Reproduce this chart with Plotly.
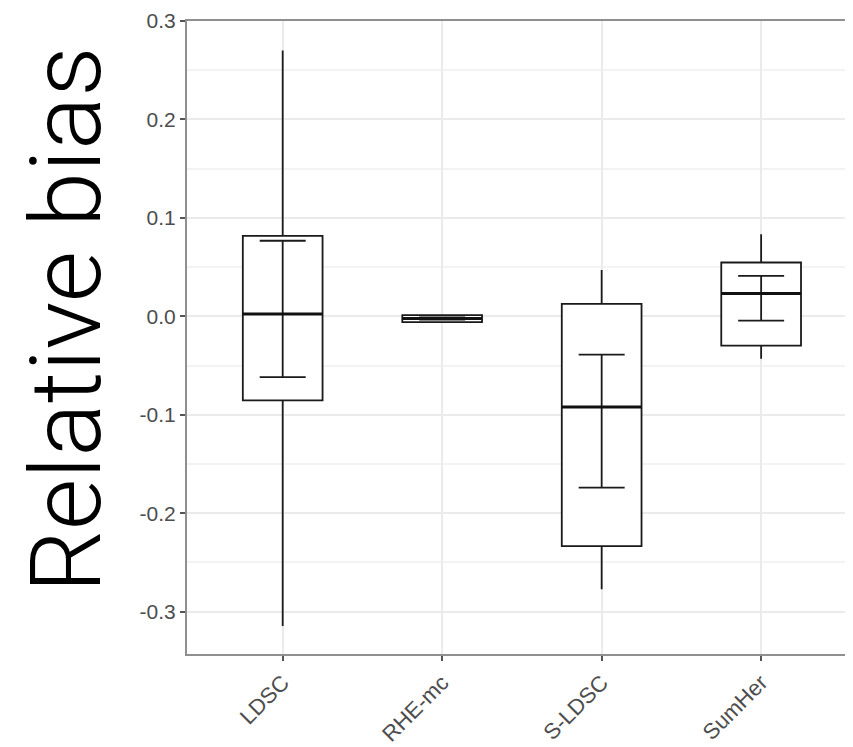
import plotly.graph_objects as go

categories = ["LDSC", "RHE-mc", "S-LDSC", "SumHer"]
q1 = [-0.0854, -0.0058, -0.2334, -0.0297]
median = [0.0024, -0.0022, -0.0922, 0.0233]
q3 = [0.0818, 0.0012, 0.0126, 0.0547]
lower_whisker = [-0.3145, -0.0065, -0.2773, -0.0432]
upper_whisker = [0.2700, 0.0018, 0.0470, 0.0835]
err_center = [0.0075, -0.0022, -0.1064, 0.0183]
err_half = [0.0693, 0.0012, 0.0676, 0.0227]

y_ticks = [-0.3, -0.2, -0.1, 0.0, 0.1, 0.2, 0.3]
y_ticktext = ["-0.3", "-0.2", "-0.1", "0.0", "0.1", "0.2", "0.3"]

xs = list(range(len(categories)))
BOX_W = 0.5

fig = go.Figure()
fig.add_trace(go.Box(
    x=xs, q1=q1, median=median, q3=q3,
    lowerfence=lower_whisker, upperfence=upper_whisker,
    width=BOX_W, whiskerwidth=0,
    fillcolor="white", line=dict(color="#1a1a1a", width=1.8),
    boxpoints=False, showlegend=False, hoverinfo="skip",
))
# thicker median lines
for xi, m in zip(xs, median):
    fig.add_shape(type="line", x0=xi - BOX_W / 2, x1=xi + BOX_W / 2, y0=m, y1=m,
                  line=dict(color="#111111", width=3), layer="above")

fig.add_trace(go.Scatter(
    x=xs, y=err_center, mode="markers",
    marker=dict(size=1, opacity=0),
    error_y=dict(type="data", array=err_half, symmetric=True,
                 color="#1a1a1a", thickness=1.8, width=23),
    showlegend=False, hoverinfo="skip",
))

L, W = 179, 666
fig.add_annotation(
    text="Relative bias", xref="paper", yref="paper",
    x=(58 - L) / W, y=0.528, xanchor="center", yanchor="middle",
    textangle=-90, showarrow=False,
    font=dict(family="Roboto", size=99, color="black", weight=300),
)

fig.update_layout(
    width=845, height=739,
    margin=dict(l=L, r=0, t=13, b=93, autoexpand=False),
    paper_bgcolor="white", plot_bgcolor="white",
    font=dict(family="Liberation Sans, Arial", size=21, color="#4d4d4d"),
    xaxis=dict(
        range=[-0.6, 3.576], tickvals=xs, ticktext=categories, tickangle=-45,
        showgrid=True, gridcolor="#ebebeb", gridwidth=2,
        showline=True, linecolor="#8f8f8f", linewidth=2, mirror=True,
        ticks="outside", ticklen=5, tickwidth=2, tickcolor="#555555",
        zeroline=False, tickfont=dict(size=22, color="#4d4d4d"), automargin=False,
    ),
    yaxis=dict(
        range=[-0.343, 0.3], tickvals=y_ticks, ticktext=y_ticktext,
        showgrid=True, gridcolor="#ebebeb", gridwidth=2,
        minor=dict(dtick=0.05, tick0=0, showgrid=True, gridcolor="#f3f3f3", gridwidth=1.5),
        showline=True, linecolor="#8f8f8f", linewidth=2, mirror=False,
        ticks="outside", ticklen=5, tickwidth=2, tickcolor="#555555",
        zeroline=False, tickfont=dict(size=21, color="#4d4d4d"), automargin=False,
    ),
)

fig.write_html("out.html")
